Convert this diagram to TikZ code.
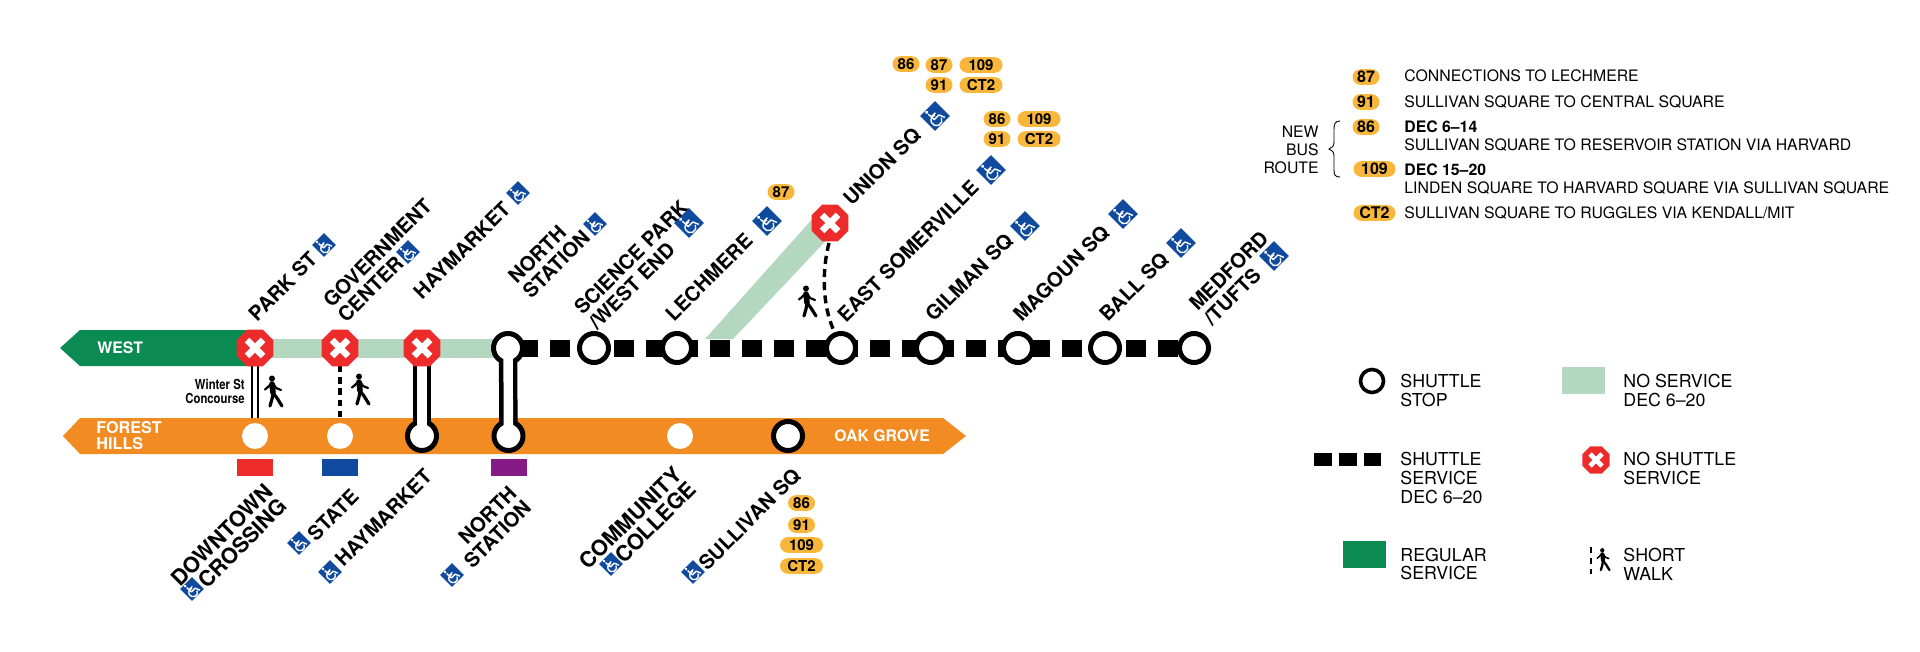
\documentclass[tikz,border=0pt]{standalone}
\usepackage{fontspec}
\setmainfont{TeX Gyre Heros}
\newfontfamily\narrowfam[FakeStretch=0.82]{TeX Gyre Heros}
\usetikzlibrary{shapes.geometric,shapes.misc}
\definecolor{regGreen}{HTML}{0B8A51}
\definecolor{paleGreen}{HTML}{B3D7BF}
\definecolor{lineOrange}{HTML}{F28C22}
\definecolor{stopRed}{HTML}{ED2B2B}
\definecolor{adaBlue}{HTML}{0F4A9E}
\definecolor{linePurple}{HTML}{861B85}
\definecolor{pillGold}{HTML}{F8B73A}
\tikzset{
  x=0.5pt,y=-0.5pt,
  stationlbl/.style={font=\bfseries\fontsize{10.05}{10.3}\selectfont,rotate=45,inner sep=0pt,outer sep=0pt},
  upl/.style={stationlbl,anchor=west,align=left},
  lol/.style={stationlbl,anchor=east,align=right},
  lolbig/.style={lol,font=\bfseries\fontsize{10.8}{10.3}\selectfont},
  noshuttle/.style={regular polygon,regular polygon sides=8,fill=stopRed,inner sep=0pt,minimum size=#1},
  noshuttle/.default=20pt,
  xmark/.style={path picture={
     \draw[white,line width=#1*0.8pt] (path picture bounding box.center) ++(-#1*1pt,-#1*1pt) -- ++(#1*2pt,#1*2pt);
     \draw[white,line width=#1*0.8pt] (path picture bounding box.center) ++(-#1*1pt,#1*1pt) -- ++(#1*2pt,-#1*2pt);}},
  shuttlestop/.style={circle,draw=black,line width=2.5pt,fill=white,minimum size=14.5pt,inner sep=0pt,outer sep=0pt},
  plainstop/.style={circle,fill=white,minimum size=13pt,inner sep=0pt,outer sep=0pt},
  ada/.style={diamond,aspect=1,fill=adaBlue,inner sep=0pt,minimum size=#1},
  pill/.style={rounded rectangle,fill=pillGold,inner sep=0pt,minimum height=7.8pt,minimum width=13.5pt,font=\bfseries\fontsize{7.5}{7.5}\selectfont},
  pillw/.style={pill,minimum width=21.5pt},
  lpill/.style={pill,font=\bfseries\fontsize{8}{8}\selectfont},
  lpillw/.style={lpill,minimum width=21pt},
  lgtxt/.style={anchor=west,inner sep=0pt,font=\fontsize{7.9}{9}\selectfont},
  keytxt/.style={anchor=west,inner sep=0pt,align=left,font=\fontsize{8.9}{9.35}\selectfont},
  linetxt/.style={anchor=west,inner sep=0pt,align=left,text=white,font=\bfseries\fontsize{7.9}{8}\selectfont},
  walker/.pic={
    \begin{scope}[scale=#1,line cap=round,line join=round]
      \fill (-1,-13.5) circle (3);
      \draw[line width=#1*2.8pt] (-1,-8) -- (0,0.5);
      \draw[line width=#1*1.1pt] (-2,-8) -- (-5,-5) -- (-8,-2.5);
      \draw[line width=#1*1.1pt] (0.5,-8) -- (3,-4) -- (8,-2);
      \draw[line width=#1*1.6pt] (0,1) -- (-1,7) -- (-3,14);
      \draw[line width=#1*1.6pt] (0,1) -- (4,6) -- (9,14);
    \end{scope}},
  wheelie/.pic={
    \begin{scope}[rotate=45,scale=#1,white,line width=0.7pt,line join=round]
      \fill (-3.5,-8.5) circle (1.8);
      \draw (-3.5,-6) -- (-3,2) -- (3.5,2) -- (6,8);
      \draw (-3.3,-2) -- (2.5,-2);
      \draw ([shift={(20:5.5)}]-2,4) arc (20:300:5.5);
    \end{scope}}
}
\begin{document}
\begin{tikzpicture}
\useasboundingbox (0,0) rectangle (1920,652);
% stop coordinates
\coordinate (cPark) at (255,348);
\coordinate (cGov) at (340,348);
\coordinate (cHay) at (422,348);
\coordinate (cNorth) at (508,348);
\coordinate (cScience) at (594,348);
\coordinate (cLech) at (677,348);
\coordinate (cEast) at (841,348);
\coordinate (cGilman) at (931,348);
\coordinate (cMagoun) at (1018,348);
\coordinate (cBall) at (1105,348);
\coordinate (cMedford) at (1194,348);
\coordinate (cUnion) at (830,223);
\coordinate (oDown) at (255,436);
\coordinate (oState) at (340,436);
\coordinate (oHay) at (422,436);
\coordinate (oNorth) at (508.5,436);
\coordinate (oComm) at (680,436);
\coordinate (oSull) at (788,436);
% no-service bands
\draw[paleGreen,line width=9.5pt] (cPark) -- (cNorth);
\fill[paleGreen] (705,339) -- (733,339) -- (838,228) -- (815,216) -- cycle;
% line bands
\fill[regGreen] (60,348) -- (80,330) -- (255,330) -- (255,366) -- (80,366) -- cycle;
\fill[lineOrange] (63,436) -- (80,418) -- (943,418) -- (966,436) -- (943,454) -- (80,454) -- cycle;
\node[linetxt] (tWest) at (97,348) {WEST};
\node[linetxt,font=\bfseries\fontsize{8.1}{8}\selectfont] (tForest) at (96,436) {FOREST\\HILLS};
\node[linetxt] (tOak) at (834,436) {OAK GROVE};
% shuttle service
\draw[black,line width=8.5pt,dash pattern=on 10pt off 6pt,dash phase=11pt] (cNorth) -- (cMedford);
% transfers
\draw[black,line width=2.6*0.4pt] (252,366) -- (252,418);
\draw[black,line width=2.6*0.4pt] (258,366) -- (258,418);
\draw[black,line width=2pt,dash pattern=on 3.2pt off 2.4pt] (cGov) ++(0,18) -- (340,418);
\draw[black,line width=9.2pt] (cHay) -- (oHay);
\draw[black,line width=9.2pt] (cNorth) -- (oNorth);
% walkway at Union Sq
\draw[black,line width=1.7pt,dash pattern=on 4pt off 2.6pt] (cUnion) ++(-1,20) .. controls (822,270) and (822,305) .. (834,331);
% stops
\node[plainstop] (stDowntown) at (oDown) {};
\node[plainstop] (stState) at (oState) {};
\node[shuttlestop] (stHayLow) at (oHay) {};
\node[shuttlestop] (stNorthLow) at (oNorth) {};
\node[plainstop] (stCollege) at (oComm) {};
\node[shuttlestop] (stSullivan) at (oSull) {};
\node[shuttlestop] (stNorth) at (cNorth) {};
\node[shuttlestop] (stScience) at (cScience) {};
\node[shuttlestop] (stLech) at (cLech) {};
\node[shuttlestop] (stEast) at (cEast) {};
\node[shuttlestop] (stGilman) at (cGilman) {};
\node[shuttlestop] (stMagoun) at (cMagoun) {};
\node[shuttlestop] (stBall) at (cBall) {};
\node[shuttlestop] (stMedford) at (cMedford) {};
\draw[white,line width=4.7pt] (cHay) -- (stHayLow.center);
\draw[white,line width=4.7pt] (stNorth.center) -- (stNorthLow.center);
\node[noshuttle,xmark=4] (stPark) at (cPark) {};
\node[noshuttle,xmark=4] (stGov) at (cGov) {};
\node[noshuttle,xmark=4] (stHay) at (cHay) {};
\node[noshuttle,xmark=4] (stUnion) at (cUnion) {};
% walkers
\pic at (273,392) {walker=1};
\pic at (360,390) {walker=1};
\pic at (807,302) {walker=1};
\node[anchor=east,align=right,inner sep=0pt,font=\narrowfam\bfseries\fontsize{6.9}{6.6}\selectfont] (tWinter) at (245,391.5) {Winter St\\Concourse};
% line colour chips
\fill[stopRed] (237,459) rectangle (273,476);
\fill[adaBlue] (322,459) rectangle (358,476);
\fill[linePurple] (491,459) rectangle (527,476);
% upper labels
\node[upl] (lPark) at (252,317) {PARK ST};
\node[upl] (lGov) at (334,311) {GOVERNMENT\\CENTER};
\node[upl] (lHay) at (417,295) {HAYMARKET};
\node[upl] (lNorth) at (519,287) {NORTH\\STATION};
\node[upl] (lScience) at (585,318) {SCIENCE PARK\\/WEST END};
\node[upl] (lLech) at (669,317) {LECHMERE};
\node[upl] (lUnion) at (847,202) {UNION SQ};
\node[upl] (lEast) at (841,318) {EAST SOMERVILLE};
\node[upl] (lGilman) at (929,318) {GILMAN SQ};
\node[upl] (lMagoun) at (1017,318) {MAGOUN SQ};
\node[upl] (lBall) at (1103,318) {BALL SQ};
\node[upl] (lMedford) at (1200,314) {MEDFORD\\/TUFTS};
% lower labels
\node[lolbig] (lDown) at (276,495) {DOWNTOWN\\CROSSING};
\node[lol] (lState) at (355,493) {STATE};
\node[lol] (lHayLow) at (428,473) {HAYMARKET};
\node[lol] (lNorthLow) at (520,497) {NORTH\\STATION};
\node[lolbig] (lComm) at (685,478) {COMMUNITY\\COLLEGE};
\node[lol] (lSull) at (797,472) {SULLIVAN SQ};
% accessibility icons
\foreach \nm/\ix/\iy/\sz/\ws in {
  a/324/245/12/0.8, b/408/252/12/0.8, c/518/193/12/0.8, d/595/224/12/0.8,
  e/689/223/15/1, f/767/221/15/1, g/935/116/15/1, h/991/170/15/1,
  i/1025/226/15/1, j/1123/214/15/1, k/1181/243/15/1, l/1274/256/15/1,
  m/192/589/12/0.8, n/299/543/12/0.8, o/330/572/12/0.8, p/452/575/12/0.8,
  q/611/564/12/0.8, r/693/572/12/0.8}{
  \node[ada=\sz pt] (icon\nm) at (\ix,\iy) {};
  \pic at (icon\nm) {wheelie=\ws};
}
% bus pills
\node[pill] (p1) at (906,64) {86};
\node[pill] (p2) at (939,65) {87};
\node[pillw] (p3) at (981,65) {109};
\node[pill] (p4) at (939,85) {91};
\node[pillw] (p5) at (981,85) {CT2};
\node[pill] (p6) at (997,119) {86};
\node[pillw] (p7) at (1039,119) {109};
\node[pill] (p8) at (997,139) {91};
\node[pillw] (p9) at (1039,139) {CT2};
\node[pill] (p10) at (781,192) {87};
\node[pill] (p11) at (801.5,503) {86};
\node[pill] (p12) at (801.5,525) {91};
\node[pillw] (p13) at (801.5,545) {109};
\node[pillw] (p14) at (801.5,566) {CT2};
% bus legend
\node[lpill] (k87) at (1366,77) {87};
\node[lpill] (k91) at (1366,102) {91};
\node[lpill] (k86) at (1366,127) {86};
\node[lpillw] (k109) at (1374.5,169) {109};
\node[lpillw] (kCT2) at (1374.5,213) {CT2};
\node[lgtxt] (b1) at (1404,76) {CONNECTIONS TO LECHMERE};
\node[lgtxt] (b2) at (1404,102) {SULLIVAN SQUARE TO CENTRAL SQUARE};
\node[lgtxt,font=\bfseries\fontsize{7.9}{9}\selectfont] (b3) at (1404,127) {DEC 6–14};
\node[lgtxt] (b4) at (1404,145) {SULLIVAN SQUARE TO RESERVOIR STATION VIA HARVARD};
\node[lgtxt,font=\bfseries\fontsize{7.9}{9}\selectfont] (b5) at (1404,170) {DEC 15–20};
\node[lgtxt] (b6) at (1404,188) {LINDEN SQUARE TO HARVARD SQUARE VIA SULLIVAN SQUARE};
\node[lgtxt] (b7) at (1404,213) {SULLIVAN SQUARE TO RUGGLES VIA KENDALL/MIT};
\node[anchor=east,align=right,inner sep=0pt,font=\fontsize{7.9}{9}\selectfont] (tNew) at (1319,150) {NEW\\BUS\\ROUTE};
\draw[black,line width=0.45pt] (1340,121) .. controls (1335,121) and (1334,124) .. (1334,129) -- (1334,142) .. controls (1334,146) and (1332,148) .. (1329,149) .. controls (1332,150) and (1334,152) .. (1334,156) -- (1334,170) .. controls (1334,175) and (1335,177) .. (1340,177);
% map legend
\node[shuttlestop,line width=1.8pt,minimum size=11.5pt] (kStop) at (1372,381) {};
\node[keytxt] (kt1) at (1400,390.5) {SHUTTLE\\STOP};
\fill[paleGreen] (1562,367) rectangle (1605,394);
\node[keytxt] (kt2) at (1623,390.5) {NO SERVICE\\DEC 6–20};
\coordinate (kdA) at (1314,459.5);
\coordinate (kdB) at (1381,459.5);
\draw[black,line width=6.5pt,dash pattern=on 9pt off 3.5pt] (kdA) -- (kdB);
\node[keytxt] (kt3) at (1400,478) {SHUTTLE\\SERVICE\\DEC 6–20};
\node[noshuttle=14.8pt,xmark=3] (kNo) at (1596,460) {};
\node[keytxt] (kt4) at (1623,468.5) {NO SHUTTLE\\SERVICE};
\fill[regGreen] (1343,541) rectangle (1386,568);
\node[keytxt] (kt5) at (1400,564) {REGULAR\\SERVICE};
\coordinate (kwA) at (1591,547);
\coordinate (kwB) at (1591,574);
\draw[black,line width=1.1pt,dash pattern=on 3.2pt off 2.2pt] (kwA) -- (kwB);
\pic at (1603,560) {walker=0.72};
\node[keytxt] (kt6) at (1623,564) {SHORT\\WALK};
\end{tikzpicture}
\end{document}
